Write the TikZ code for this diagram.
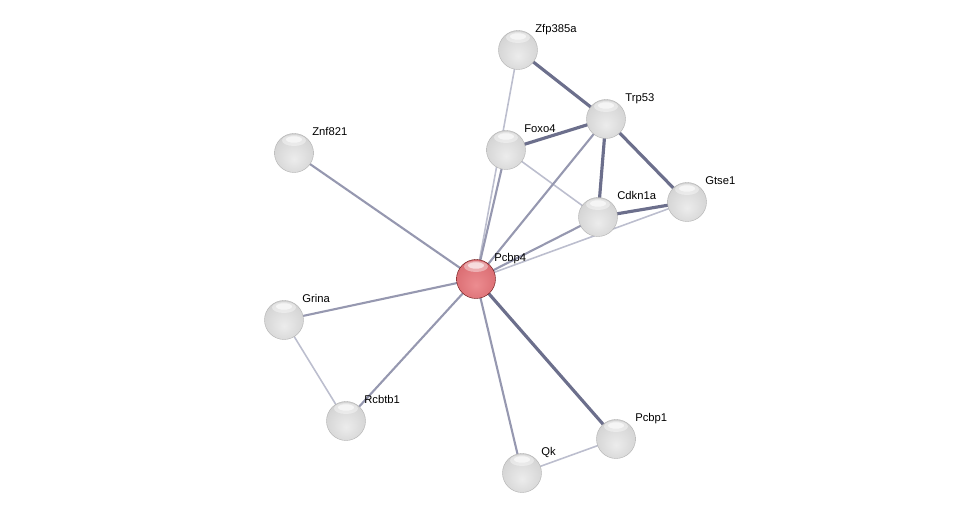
\documentclass[tikz,border=0pt]{standalone}
\usepackage{fontspec}
\setsansfont{Liberation Sans}
\usetikzlibrary{calc,backgrounds}

\definecolor{lightedge}{RGB}{188,190,206}
\definecolor{midedge}{RGB}{150,152,176}
\definecolor{strongedge}{RGB}{108,111,140}
\definecolor{ballA}{RGB}{236,236,236}
\definecolor{ballB}{RGB}{214,214,214}
\definecolor{ballC}{RGB}{190,190,190}
\definecolor{ballD}{RGB}{150,150,150}
\definecolor{redA}{RGB}{236,140,144}
\definecolor{redB}{RGB}{220,112,117}
\definecolor{redC}{RGB}{196,88,94}
\definecolor{redD}{RGB}{150,55,60}

\pgfdeclareradialshading{greyball}{\pgfpoint{0bp}{-8bp}}{%
  color(0bp)=(ballA); color(25bp)=(ballB); color(42bp)=(ballC);
  color(52bp)=(ballD)}
\pgfdeclareradialshading{redball}{\pgfpoint{0bp}{-8bp}}{%
  color(0bp)=(redA); color(25bp)=(redB); color(42bp)=(redC);
  color(52bp)=(redD)}

\tikzset{
  prot/.style={circle,minimum size=0.78cm,inner sep=0pt,draw=gray!65,
    line width=0.2pt,shading=greyball,
    path picture={\fill[white,opacity=0.4]
      ([yshift=-0.14cm]path picture bounding box.north)
      ellipse [x radius=0.24cm,y radius=0.11cm];
      \fill[white,opacity=0.6]
      ([yshift=-0.12cm]path picture bounding box.north)
      ellipse [x radius=0.16cm,y radius=0.065cm];}},
  query/.style={prot,shading=redball,draw=red!35!black},
  lbl/.style={anchor=base west,inner sep=0pt,
    font=\sffamily\fontsize{6.4}{7}\selectfont},
  weak/.style={draw=lightedge,line width=0.9pt},
  medium/.style={draw=midedge,line width=1.2pt},
  strong/.style={draw=strongedge,line width=1.8pt}
}

\begin{document}
\begin{tikzpicture}[x=0.02cm,y=-0.02cm]
      \useasboundingbox (0,0) rectangle (975,519);

      \node[prot] (Zfp) at (518,50) {};
      \node[prot] (Trp) at (606,119) {};
      \node[prot] (Znf) at (294,153) {};
      \node[prot] (Foxo) at (506,150) {};
      \node[prot] (Gtse) at (687,202) {};
      \node[prot] (Cdkn) at (598,217) {};
      \node[query] (Pcbp4) at (476,279) {};
      \node[prot] (Grina) at (284,320) {};
      \node[prot] (Rcbtb) at (346,421) {};
      \node[prot] (Pcbp1) at (616,439) {};
      \node[prot] (Qk) at (522,473) {};

      \node[lbl] at ($(Zfp)+(17,-17)$) {Zfp385a};
      \node[lbl] at ($(Trp)+(19,-17)$) {Trp53};
      \node[lbl] at ($(Znf)+(18,-17)$) {Znf821};
      \node[lbl] at ($(Foxo)+(18,-17)$) {Foxo4};
      \node[lbl] at ($(Gtse)+(18,-17)$) {Gtse1};
      \node[lbl] at ($(Cdkn)+(19,-17)$) {Cdkn1a};
      \node[lbl] at ($(Pcbp4)+(18,-17)$) {Pcbp4};
      \node[lbl] at ($(Grina)+(18,-17)$) {Grina};
      \node[lbl] at ($(Rcbtb)+(18,-17)$) {Rcbtb1};
      \node[lbl] at ($(Pcbp1)+(19,-17)$) {Pcbp1};
      \node[lbl] at ($(Qk)+(19,-17)$) {Qk};

      \begin{pgfonlayer}{background}
      \path[weak] (Zfp.center) -- (Pcbp4.center) (Foxo.center) -- (Cdkn.center)
      (Gtse.center) -- (Pcbp4.center) (Grina.center) -- (Rcbtb.center)
      (Qk.center) -- (Pcbp1.center);
      \path[medium] (Trp.center) -- (Pcbp4.center) (Foxo.center) -- (Pcbp4.center)
      (Cdkn.center) -- (Pcbp4.center) (Znf.center) -- (Pcbp4.center)
      (Grina.center) -- (Pcbp4.center) (Rcbtb.center) -- (Pcbp4.center)
      (Qk.center) -- (Pcbp4.center);
      \path[strong] (Zfp.center) -- (Trp.center) (Trp.center) -- (Foxo.center)
      (Trp.center) -- (Cdkn.center) (Trp.center) -- (Gtse.center)
      (Cdkn.center) -- (Gtse.center) (Pcbp4.center) -- (Pcbp1.center);
      \end{pgfonlayer}
    \end{tikzpicture}
\end{document}
